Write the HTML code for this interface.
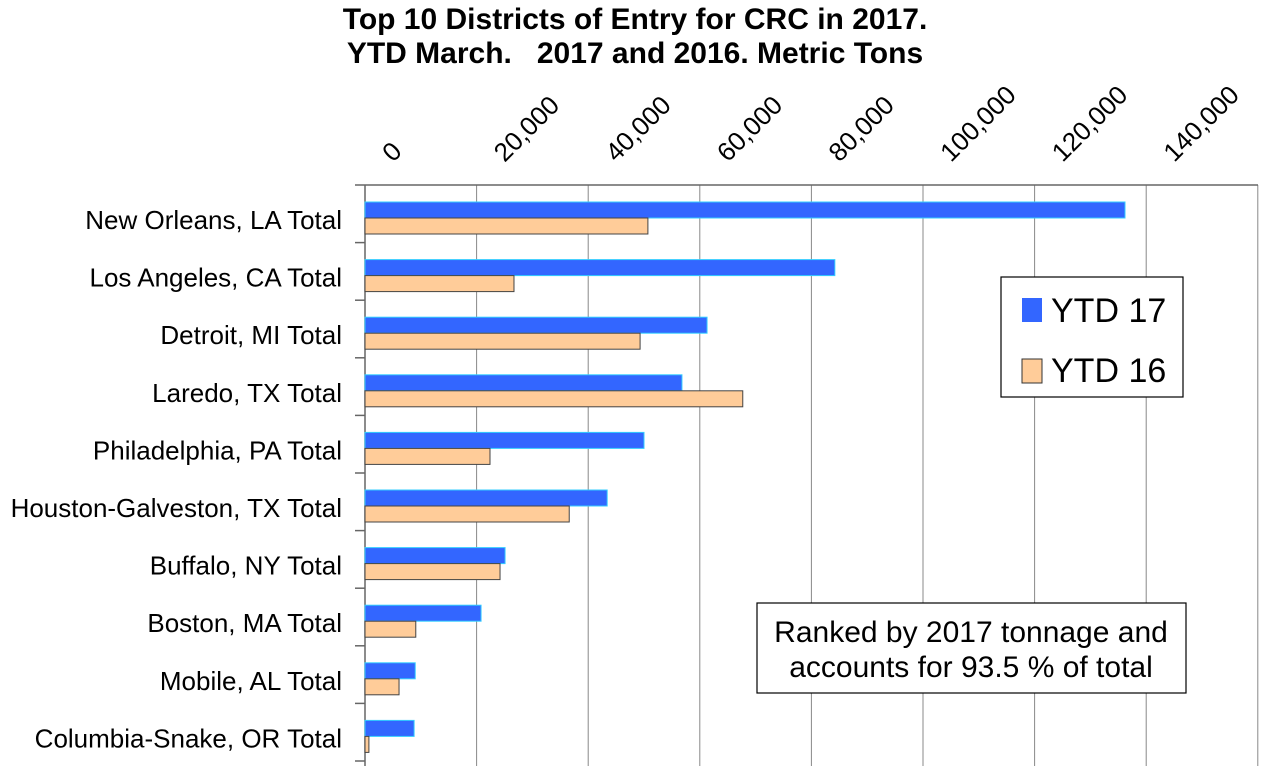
<!DOCTYPE html>
<html><head><meta charset="utf-8"><style>
body{margin:0;background:#fff;font-family:"Liberation Sans",Arial,sans-serif}
</style></head><body>
<svg id="c" width="1261" height="771" xmlns="http://www.w3.org/2000/svg" font-family="Liberation Sans, Arial, sans-serif">
<text x="635" y="29" text-anchor="middle" font-size="30" font-weight="bold">Top 10 Districts of Entry for CRC in 2017.</text>
<text x="635" y="63" text-anchor="middle" font-size="30" font-weight="bold" xml:space="preserve">YTD March.   2017 and 2016. Metric Tons</text>
<g id="grid"></g><g id="bars"></g><g id="labels"></g>
<g>
<rect x="1001" y="277" width="182" height="120" fill="#fff" stroke="#000" stroke-width="1.2"/>
<rect x="1022" y="298" width="20" height="24" fill="#3366ff"/>
<text x="1051" y="322" font-size="34">YTD 17</text>
<rect x="1022" y="359" width="20" height="24" fill="#ffcc99" stroke="#333"/>
<text x="1051" y="382" font-size="34">YTD 16</text>
</g>
<g>
<rect x="757" y="603" width="429" height="90" fill="#fff" stroke="#000" stroke-width="1.2"/>
<text x="971" y="642" text-anchor="middle" font-size="30">Ranked by 2017 tonnage and</text>
<text x="971" y="677" text-anchor="middle" font-size="30">accounts for 93.5 % of total</text>
</g>
</svg>
<script>
const categories=["New Orleans, LA Total","Los Angeles, CA Total","Detroit, MI Total","Laredo, TX Total","Philadelphia, PA Total","Houston-Galveston, TX Total","Buffalo, NY Total","Boston, MA Total","Mobile, AL Total","Columbia-Snake, OR Total"];
const ytd17=[136200,84200,61300,56800,50000,43400,25100,20800,9000,8800];
const ytd16=[50700,26700,49300,67700,22400,36600,24200,9100,6100,700];
const ticks=[0,20000,40000,60000,80000,100000,120000,140000,160000];
const tickLabels=["0","20,000","40,000","60,000","80,000","100,000","120,000","140,000",""];
const NS="http://www.w3.org/2000/svg";
const x0=365,pxPer=111.6/20000,yTop=185,band=57.6;
const X=v=>x0+v*pxPer;
const Y=i=>yTop+i*band;
function mk(t,a,p){const e=document.createElementNS(NS,t);for(const k in a)e.setAttribute(k,a[k]);p.appendChild(e);return e;}
const grid=document.getElementById('grid'),bars=document.getElementById('bars'),labels=document.getElementById('labels');
ticks.forEach((t,i)=>{
 const l=mk('line',{x1:X(t),x2:X(t),y1:yTop,y2:Y(categories.length)+5,stroke:i==0?'#666':'#888','stroke-width':i==0?1.5:1},grid);
 
 
 if(tickLabels[i]){
  const tx=mk('text',{x:0,y:0,'font-size':26,transform:`translate(${X(t)+28},${yTop-22}) rotate(-45)`},labels);
  tx.textContent=tickLabels[i];
  
  
 }
});
const ax=mk('line',{x1:355,x2:1258,y1:yTop,y2:yTop,stroke:'#666','stroke-width':1.5},grid);


categories.forEach((c,i)=>{
 const y=Y(i);
 const tk=mk('line',{x1:355,x2:365,y1:y+band,y2:y+band,stroke:'#666','stroke-width':1.5},grid);
 
 
 const b=mk('rect',{x:x0,y:y+17,width:X(ytd17[i])-x0,height:16,fill:'#3366ff',stroke:'#33ccff','stroke-width':1},bars);
 
 
 const o=mk('rect',{x:x0,y:y+33,width:X(ytd16[i])-x0,height:16,fill:'#ffcc99',stroke:'#444','stroke-width':1},bars);
 
 
 const t=mk('text',{x:342,y:y+44,'text-anchor':'end','font-size':26},labels);
 t.textContent=c;
 
 
});
</script>
</body></html>
